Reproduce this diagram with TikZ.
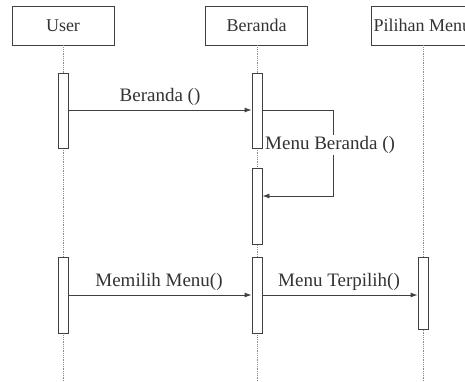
\documentclass[tikz,border=0pt]{standalone}
\usepackage{fontspec}
\setmainfont{Liberation Serif}[Ligatures=TeX]
\newfontfamily\timesfam{Liberation Serif}
\usetikzlibrary{arrows.meta}
\begin{document}
\begin{tikzpicture}[x=1pt,y=-1pt,
  ink/.style={draw=black!75, line width=0.9pt},
  actor/.style={ink, fill=white, rectangle, minimum width=102pt, minimum height=39pt, inner sep=0pt, font=\timesfam\fontsize{18}{20}\selectfont, text=black!80},
  life/.style={draw=black!45, line width=0.8pt, densely dotted},
  act/.style={ink, fill=white, minimum width=10pt, inner sep=0pt},
  msg/.style={ink, -{Latex[length=7pt,width=5pt]}},
  lbl/.style={font=\timesfam\fontsize{19}{21}\selectfont, text=black!80, inner sep=1pt}]
\clip (0,0) rectangle (465,381);
\useasboundingbox (0,0) rectangle (465,381);
\fill[white] (0,0) rectangle (465,381);

% participants
\node[actor] (user) at (63,25.5) {User};
\node[actor] (home) at (256.5,25.5) {Beranda};
\node[actor, anchor=west] (menu) at (371,25.5) {Pilihan Menu};

% lifelines
\coordinate (userend) at (63,381);
\coordinate (homeend) at (257,381);
\coordinate (menuend) at (423,381);
\draw[life] (user.south) -- (userend);
\draw[life] (home.south -| homeend) -- (homeend);
\draw[life] (menu.south -| menuend) -- (menuend);

% activation bars
\node[act, draw, minimum height=75pt] (ua1) at (63,110.5) {};
\node[act, draw, minimum height=75pt] (ha1) at (257,110.5) {};
\node[act, draw, minimum height=76pt] (ha2) at (257,206) {};
\node[act, draw, minimum height=76pt] (ua2) at (63,295) {};
\node[act, draw, minimum height=76pt] (ha3) at (257,295) {};
\node[act, draw, minimum height=72pt] (ma1) at (423,293) {};

% messages
\coordinate (m1s) at (ua1.east |- 0,110);
\coordinate (m1e) at (ha1.west |- 0,110);
\draw[msg] (m1s) -- (m1e);
\node[lbl] (l1) at (160,97) {Beranda ()};

% self call
\coordinate (s1) at (ha1.east |- 0,110);
\coordinate (s2) at (333,110);
\coordinate (s3) at (333,196);
\coordinate (s4) at (ha2.east |- 0,196);
\draw[msg] (s1) -- (s2) -- (s3) -- (s4);
\node[lbl, fill=white, anchor=west] (l2) at (264,145) {Menu Beranda ()};

\coordinate (m3s) at (ua2.east |- 0,295);
\coordinate (m3e) at (ha3.west |- 0,295);
\draw[msg] (m3s) -- (m3e);
\node[lbl] (l3) at (159,282) {Memilih Menu()};

\coordinate (m4s) at (ha3.east |- 0,295);
\coordinate (m4e) at (ma1.west |- 0,295);
\draw[msg] (m4s) -- (m4e);
\node[lbl] (l4) at (339,282) {Menu Terpilih()};
\end{tikzpicture}
\end{document}
